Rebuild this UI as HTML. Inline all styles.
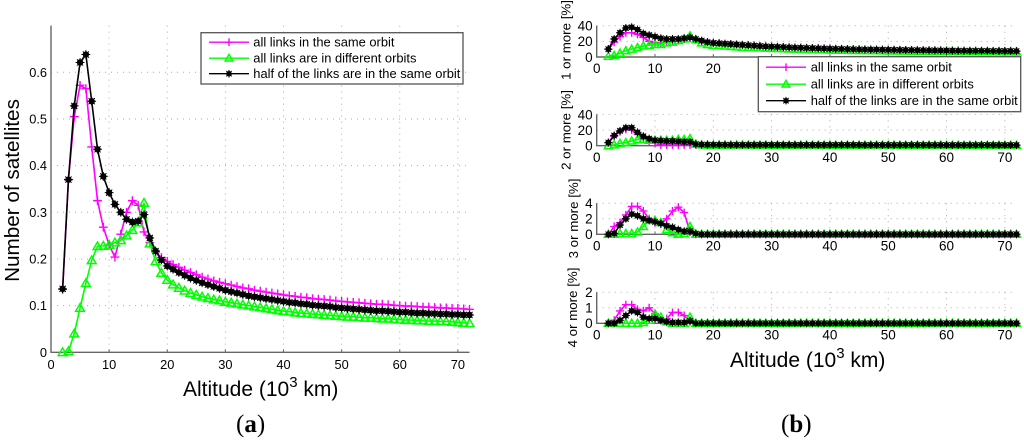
<!DOCTYPE html>
<html>
<head>
<meta charset="utf-8">
<title>Satellite links vs altitude</title>
<style>
html,body{margin:0;padding:0;background:#fff;width:1024px;height:440px;overflow:hidden}
svg{display:block;filter:blur(.3px)}
text{font-family:"Liberation Sans",Arial,sans-serif;fill:#000}
.cap{font-family:"Liberation Serif",serif;font-size:25px;fill:#000}
</style>
</head>
<body>
<svg id="chart" xmlns="http://www.w3.org/2000/svg" width="1024" height="440" viewBox="0 0 1024 440">
  <g id="panel-a"></g>
  <g id="panel-b"></g>

  <text transform="translate(19,190.5) rotate(-90)" text-anchor="middle" font-size="20.7">Number of satellites</text>
  <text x="183" y="396" font-size="21">Altitude (10<tspan font-size="15" dy="-9">3</tspan><tspan dy="9"> km)</tspan></text>
  <text class="cap" x="236" y="432">(<tspan font-weight="bold">a</tspan>)</text>

  <text x="730" y="367" font-size="21">Altitude (10<tspan font-size="15" dy="-9">3</tspan><tspan dy="9"> km)</tspan></text>
  <text class="cap" x="781" y="432">(<tspan font-weight="bold">b</tspan>)</text>
  <text transform="translate(570.5,40) rotate(-90)" text-anchor="middle" font-size="13.3">1 or more [%]</text>
  <text transform="translate(570.5,130) rotate(-90)" text-anchor="middle" font-size="13.3">2 or more [%]</text>
  <text transform="translate(578,218.5) rotate(-90)" text-anchor="middle" font-size="13.3">3 or more [%]</text>
  <text transform="translate(577,307.5) rotate(-90)" text-anchor="middle" font-size="13.3">4 or more [%]</text>

  <g id="legend-a"></g>
  <g id="legend-b"></g>
</svg>
<script>
// Altitude categories run 2..72 (thousand km), one value per unit.
const altitudeStart = 2;
const seriesLabels = ["all links in the same orbit", "all links are in different orbits", "half of the links are in the same orbit"];

const xTicks = [0, 10, 20, 30, 40, 50, 60, 70];
const yTicksA = [0, 0.1, 0.2, 0.3, 0.4, 0.5, 0.6];
const yTickLabelsA = ["0", "0.1", "0.2", "0.3", "0.4", "0.5", "0.6"];
const yTicks1 = [0, 20, 40];
const yTicks2 = [0, 20, 40];
const yTicks3 = [0, 2, 4];
const yTicks4 = [0, 1, 2];

const satSame = [.135,.37,.505,.572,.565,.44,.325,.268,.23,.204,.253,.30,.325,.315,.258,.235,.215,.203,
.195,.188,.182,.176,.171,.166,.161,.157,.153,.150,
.147,.144,.141,.138,.136,.133,.131,.129,.127,.125,
.123,.121,.120,.118,.117,.115,.114,.113,.112,.110,
.109,.108,.107,.106,.105,.104,.103,.103,.102,.101,
.100,.099,.099,.098,.097,.097,.096,.095,.095,.094,
.094,.093,.092];
const satDiff = [0,.002,.04,.095,.148,.197,.227,.228,.23,.235,.24,.25,.262,.278,.32,.233,.195,.17,
.155,.145,.138,.132,.127,.123,.119,.116,.113,.111,
.108,.106,.104,.102,.100,.098,.096,.094,.092,.090,
.088,.087,.085,.084,.083,.082,.081,.080,.079,.078,
.077,.076,.076,.075,.074,.074,.073,.072,.072,.071,
.070,.069,.069,.068,.068,.067,.067,.066,.066,.065,
.064,.063,.062];
const satHalf = [.136,.37,.528,.621,.638,.538,.435,.377,.342,.317,.30,.285,.279,.281,.295,.245,.217,.198,
.185,.178,.171,.165,.159,.154,.149,.145,.141,.137,
.133,.130,.127,.124,.121,.119,.117,.115,.113,.111,
.109,.107,.106,.104,.103,.101,.100,.099,.098,.096,
.095,.094,.093,.092,.091,.090,.089,.089,.088,.087,
.086,.086,.085,.084,.084,.083,.083,.082,.082,.081,
.081,.080,.080];

const oneSame = [10,19,26,31,31,29,25,20,18,18,19,20,21,23,24,22,20,19,
18,17.5,17,16.5,16,15.5,15,14.5,14,13.5,
13.5,13,12.8,12.5,12.2,12,11.8,11.5,11.3,11,
10.8,10.6,10.4,10.2,10,9.9,9.8,9.6,9.5,9.4,
9.3,9.2,9.1,9,8.9,8.8,8.7,8.6,8.5,8.4,
8.3,8.2,8.1,8.1,8,8,7.9,7.9,7.8,7.8,
7.7,7.7,7.6];
const oneDiff = [1,2,5,8,10,12,14,15,16,16,18,19,21,23,27,22,18,16,
15,14.5,14,13.5,13,12.5,12.2,12,11.6,11.3,
11,10.8,10.5,10.3,10.1,9.9,9.7,9.5,9.3,9.1,
9,8.8,8.7,8.5,8.4,8.3,8.2,8.1,8,7.9,
7.8,7.7,7.6,7.5,7.4,7.4,7.3,7.2,7.2,7.1,
7,7,6.9,6.9,6.8,6.8,6.7,6.7,6.6,6.6,
6.5,6.5,6.4];
const oneHalf = [10,23,31,37,38,35,30,28,26,24,23,23,23,24,25,23,21,19,
18,17.5,17,16.5,16,15.5,15,14.5,14,13.5,
13.2,12.9,12.6,12.3,12,11.8,11.5,11.3,11,10.8,
10.6,10.4,10.2,10,9.9,9.7,9.6,9.5,9.4,9.3,
9.2,9.1,9,8.9,8.8,8.7,8.6,8.5,8.4,8.3,
8.2,8.1,8,8,7.9,7.9,7.8,7.8,7.7,7.7,
7.6,7.6,7.5];

const twoSame = [4,12,18,21,20,15,10,5,3,1,1,1,1,1,1,1,1,1,
1,1,1,1,1,1,1,1,1,1,
.9,.9,.9,.9,.9,.9,.9,.9,.9,.9,
.8,.8,.8,.8,.8,.8,.8,.8,.8,.8,
.7,.7,.7,.7,.7,.7,.7,.7,.7,.7,
.6,.6,.6,.6,.6,.6,.6,.6,.6,.6,
.6,.6,.6];
const twoDiff = [0,1,3,4,6,8,8,7,7,7,7,7,8,8,9,2,1,.8,
.8,.8,.8,.7,.7,.7,.7,.7,.7,.7,
.6,.6,.6,.6,.6,.6,.6,.6,.6,.6,
.5,.5,.5,.5,.5,.5,.5,.5,.5,.5,
.5,.5,.5,.5,.5,.5,.5,.5,.5,.5,
.4,.4,.4,.4,.4,.4,.4,.4,.4,.4,
.4,.4,.4];
const twoHalf = [4,13,19,23,23,17,12,9,7,6.5,6,6,5.5,5,5,2,1.5,1.3,
1.2,1.2,1.2,1.1,1.1,1.1,1.1,1.1,1.1,1.1,
1,1,1,1,1,1,1,1,1,1,
1,1,1,1,1,1,.9,.9,.9,.9,
.9,.9,.9,.9,.9,.9,.9,.9,.9,.9,
.8,.8,.8,.8,.8,.8,.8,.8,.8,.8,
.8,.8,.8];

const threeSame = [0,1,1.5,2.5,3.6,3.6,3,2,1.5,1.3,2,3,3.5,2.8,.3,
0,0,0,0,0,0,0,0,0,0,0,0,0,0,0,0,0,0,0,0,0,0,0,0,0,0,0,0,0,0,0,0,0,0,0,0,0,0,0,0,0,0,0,0,0,0,0,0,0,0,0,0,0,0,0,0];
const threeDiff = [0,0,.1,.1,.1,.3,1,1.8,1.8,1.5,.6,.2,0,.1,1,
0,0,0,0,0,0,0,0,0,0,0,0,0,0,0,0,0,0,0,0,0,0,0,0,0,0,0,0,0,0,0,0,0,0,0,0,0,0,0,0,0,0,0,0,0,0,0,0,0,0,0,0,0,0,0,0];
const threeHalf = [0,.1,1.2,2,2.6,2.4,2,1.8,1.6,1.4,1.1,.9,.6,.4,.4,
.1,0,0,0,0,0,0,0,0,0,0,0,0,0,0,0,0,0,0,0,0,0,0,0,0,0,0,0,0,0,0,0,0,0,0,0,0,0,0,0,0,0,0,0,0,0,0,0,0,0,0,0,0,0,0,0];

const fourSame = [0,.2,.8,1.2,1.2,.9,.8,1,.6,.2,.3,.7,.7,.5,.1,
0,0,0,0,0,0,0,0,0,0,0,0,0,0,0,0,0,0,0,0,0,0,0,0,0,0,0,0,0,0,0,0,0,0,0,0,0,0,0,0,0,0,0,0,0,0,0,0,0,0,0,0,0,0,0,0];
const fourDiff = [0,0,0,0,0,0,.05,.2,.6,.4,.1,0,0,0,.4,
0,0,0,0,0,0,0,0,0,0,0,0,0,0,0,0,0,0,0,0,0,0,0,0,0,0,0,0,0,0,0,0,0,0,0,0,0,0,0,0,0,0,0,0,0,0,0,0,0,0,0,0,0,0,0,0];
const fourHalf = [0,0,.2,.5,.8,.7,.4,.3,.3,.2,.1,.05,.05,.05,.15,
0,0,0,0,0,0,0,0,0,0,0,0,0,0,0,0,0,0,0,0,0,0,0,0,0,0,0,0,0,0,0,0,0,0,0,0,0,0,0,0,0,0,0,0,0,0,0,0,0,0,0,0,0,0,0,0];

const NS = "http://www.w3.org/2000/svg";
const COLORS = ["#ff00ff", "#00ff00", "#000000"];
const SERIES_KEYS = ["same-orbit", "different-orbits", "half-same-orbit"];

function make(parent, tag, attrs) {
  const el = document.createElementNS(NS, tag);
  for (const k in attrs) el.setAttribute(k, attrs[k]);
  parent.appendChild(el);
  return el;
}

function drawMarker(parent, kind, cx, cy, s) {
  const g = make(parent, "g", {});
  
  
  if (kind === 0) {
    make(g, "path", {d: `M${cx - s} ${cy}H${cx + s}M${cx} ${cy - s}V${cy + s}`, stroke: COLORS[0], "stroke-width": 1.4, fill: "none"});
  } else if (kind === 1) {
    make(g, "path", {d: `M${cx} ${cy - s}L${cx + s} ${cy + s * .75}H${cx - s}Z`, stroke: COLORS[1], "stroke-width": 1.5, fill: "none"});
  } else {
    make(g, "circle", {cx: cx, cy: cy, r: s * .72, fill: "#000"});
    make(g, "path", {d: `M${cx - s} ${cy}H${cx + s}M${cx} ${cy - s}V${cy + s}M${cx - s * .7} ${cy - s * .7}L${cx + s * .7} ${cy + s * .7}M${cx - s * .7} ${cy + s * .7}L${cx + s * .7} ${cy - s * .7}`, stroke: "#000", "stroke-width": 1});
  }
}

function drawAxes(root, px, py, opts) {
  xTicks.forEach(function (t) {
    if (t > 0) {
      const gl = make(root, "line", {x1: px(t), x2: px(t), y1: py(opts.yMax), y2: py(0), stroke: "#aaa", "stroke-width": 1, "stroke-dasharray": "1 5"});
      
      
    }
    const lab = make(root, "text", {x: px(t), y: opts.xLabelY, "text-anchor": "middle", "font-size": opts.fs});
    lab.textContent = String(t);
    
    
    const tk = make(root, "line", {x1: px(t), x2: px(t), y1: py(0), y2: py(0) - 3, stroke: "#666", "stroke-width": 1});
    
    
  });
  opts.yTicks.forEach(function (t, i) {
    if (t > 0) {
      const gl = make(root, "line", {x1: px(0), x2: px(72), y1: py(t), y2: py(t), stroke: "#aaa", "stroke-width": 1, "stroke-dasharray": "1 5"});
      
      
    }
    const lab = make(root, "text", {x: px(0) - 4, y: py(t) + opts.fs * .36, "text-anchor": "end", "font-size": opts.fs});
    lab.textContent = opts.yLabels ? opts.yLabels[i] : String(t);
    
    
  });
  const ax = make(root, "path", {d: `M${px(0)} ${py(opts.yMax)}V${py(0)}H${px(72)}`, stroke: "#666", "stroke-width": 1.4, fill: "none"});
  
  
}

function drawSeries(root, px, py, values, kind, markerSize, lineW) {
  const g = make(root, "g", {});
  
  
  const pts = values.map(function (v, i) { return px(altitudeStart + i) + "," + py(v); }).join(" ");
  const line = make(g, "polyline", {points: pts, fill: "none", stroke: COLORS[kind], "stroke-width": lineW});
  
  
  values.forEach(function (v, i) {
    drawMarker(g, kind, px(altitudeStart + i), py(v), markerSize);
  });
}

function drawPanel(rootId, x0, x72, yBottom, yTop, yMax, yTicks, yLabels, xLabelY, fs, sets, ms, lw) {
  const root = document.getElementById(rootId);
  const px = function (v) { return x0 + (x72 - x0) * v / 72; };
  const py = function (v) { return yBottom - (yBottom - yTop) * v / yMax; };
  drawAxes(root, px, py, {yMax: yMax, yTicks: yTicks, yLabels: yLabels, xLabelY: xLabelY, fs: fs});
  sets.forEach(function (vals, k) { drawSeries(root, px, py, vals, k, ms, lw); });
}

drawPanel("panel-a", 51, 469.5, 352.3, 25.6, 0.7, yTicksA, yTickLabelsA, 369, 12.8, [satSame, satDiff, satHalf], 4.4, 1.6);
drawPanel("panel-b", 596.7, 1016.5, 57, 25.7, 40, yTicks1, null, 73, 13.5, [oneSame, oneDiff, oneHalf], 4, 1.6);
drawPanel("panel-b", 596.7, 1016.5, 145.7, 114.4, 40, yTicks2, null, 162, 13.5, [twoSame, twoDiff, twoHalf], 4, 1.6);
drawPanel("panel-b", 596.7, 1016.5, 234.3, 203.3, 4, yTicks3, null, 250.5, 13.5, [threeSame, threeDiff, threeHalf], 4, 1.6);
drawPanel("panel-b", 596.7, 1016.5, 323.3, 292.3, 2, yTicks4, null, 339.5, 13.5, [fourSame, fourDiff, fourHalf], 4, 1.6);

function drawLegend(rootId, bx, by, bw, bh, lineX1, lineX2, textX, baselines, markerS) {
  const root = document.getElementById(rootId);
  const box = make(root, "rect", {x: bx, y: by, width: bw, height: bh, fill: "#fff", stroke: "#555", "stroke-width": 1.3});
  
  
  seriesLabels.forEach(function (label, i) {
    const g = make(root, "g", {});
    
    
    const yy = baselines[i] - 4.3;
    make(g, "line", {x1: lineX1, x2: lineX2, y1: yy, y2: yy, stroke: COLORS[i], "stroke-width": 1.4});
    drawMarker(g, i, (lineX1 + lineX2) / 2, yy, markerS);
    const t = make(g, "text", {x: textX, y: baselines[i], "font-size": 12.9});
    t.textContent = label;
    
    
  });
}
drawLegend("legend-a", 201, 32.7, 262, 51.3, 209, 249, 253.3, [46.5, 62.5, 78], 3.8);
drawLegend("legend-b", 758.3, 56.7, 262.4, 55, 766, 806, 810.7, [71.5, 88.5, 105], 3.8);
</script>
</body>
</html>
